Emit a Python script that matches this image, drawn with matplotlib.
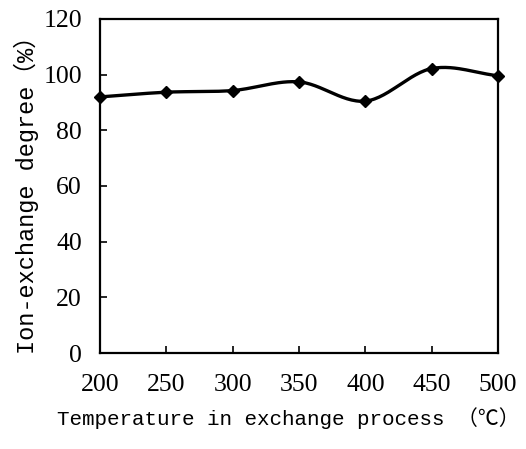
import numpy as np
import matplotlib
matplotlib.use("Agg")
import matplotlib.pyplot as plt

temperature = [200, 250, 300, 350, 400, 450, 500]
ion_exchange = [92.0, 93.7, 94.3, 97.4, 90.5, 102.2, 99.6]
y_ticks = [0, 20, 40, 60, 80, 100, 120]
x_ticks = [200, 250, 300, 350, 400, 450, 500]


def catmull_rom(x, y, n=30):
    x = np.asarray(x, float)
    y = np.asarray(y, float)
    px = np.concatenate([[2 * x[0] - x[1]], x, [2 * x[-1] - x[-2]]])
    py = np.concatenate([[2 * y[0] - y[1]], y, [2 * y[-1] - y[-2]]])
    xs, ys = [], []
    t = np.linspace(0, 1, n)
    for i in range(1, len(px) - 2):
        for arr, out in ((px, xs), (py, ys)):
            p0, p1, p2, p3 = arr[i - 1], arr[i], arr[i + 1], arr[i + 2]
            out.extend(0.5 * ((2 * p1) + (-p0 + p2) * t
                              + (2 * p0 - 5 * p1 + 4 * p2 - p3) * t ** 2
                              + (-p0 + 3 * p1 - 3 * p2 + p3) * t ** 3))
    return np.array(xs), np.array(ys)


fig = plt.figure(figsize=(5.26, 4.49), dpi=100)
ax = fig.add_axes([0.190, 0.2138, 0.757, 0.7439])

sx, sy = catmull_rom(temperature, ion_exchange)
ax.plot(sx, sy, color="black", lw=2.4, solid_capstyle="round")
ax.plot(temperature, ion_exchange, ls="none", marker="D", ms=6.5,
        color="black", clip_on=False)

ax.set_xlim(200, 500)
ax.set_ylim(0, 120)
ax.set_xticks(x_ticks)
ax.set_yticks(y_ticks)
tick_font = dict(family="Liberation Serif", size=18.5)
ax.set_xticklabels([str(v) for v in x_ticks], **tick_font)
ax.set_yticklabels([str(v) for v in y_ticks], **tick_font)
ax.tick_params(axis="both", direction="in", length=5, width=1.2, color="black")
ax.tick_params(axis="x", pad=15)
ax.tick_params(axis="y", pad=13)
for s in ax.spines.values():
    s.set_linewidth(1.6)

fam = ["Liberation Mono", "Noto Sans CJK SC", "DejaVu Sans"]
ax.set_xlabel("Temperature in exchange process （\u2103）",
              family=fam, size=15)
ax.xaxis.set_label_coords(0.472, -0.162)
ax.set_ylabel("Ion-exchange degree（%）", family=fam, size=17)
ax.yaxis.set_label_coords(-0.152, 0.49)

fig.savefig("out.png", dpi=100)
